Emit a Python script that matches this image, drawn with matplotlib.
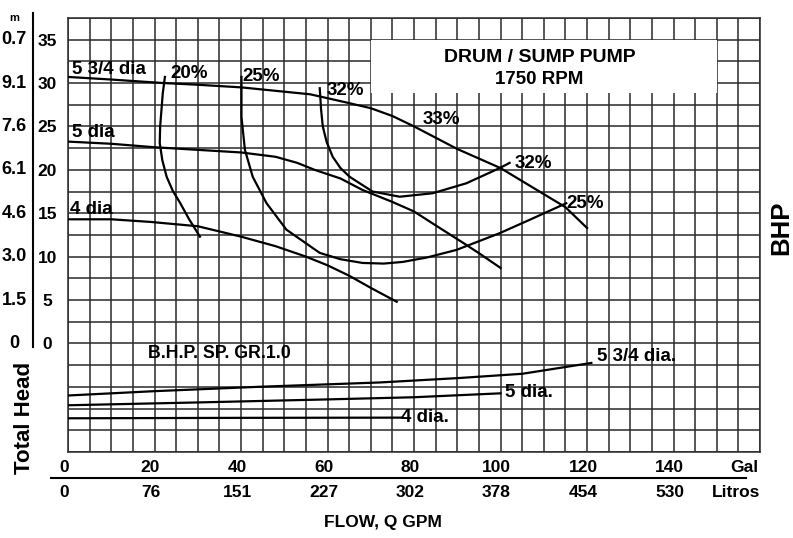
import matplotlib
matplotlib.use("Agg")
import matplotlib.pyplot as plt
import matplotlib.transforms as mtransforms
from matplotlib.patches import Rectangle
import numpy as np

plt.rcParams['font.family'] = ['Liberation Sans Narrow', 'Liberation Sans', 'DejaVu Sans']
WIDE = ["Liberation Sans", "DejaVu Sans"]

# head-capacity curves (gpm, ft)
q_575 = [0, 10, 22, 30, 40, 50, 56, 64, 70, 75, 80, 90, 100, 110, 115, 120]
h_575 = [30.7, 30.4, 30.0, 29.8, 29.5, 29.0, 28.7, 27.8, 27.1, 26.2, 25.0, 22.4, 20.2, 17.2, 15.7, 13.3]
q_5 = [0, 10, 20, 30, 40, 48, 53, 57, 63, 68, 75, 80, 85, 91, 95, 100]
h_5 = [23.25, 23.0, 22.6, 22.3, 22.0, 21.5, 20.8, 20.0, 19.0, 17.7, 16.3, 15.2, 13.6, 11.7, 10.4, 8.7]
q_4 = [0, 10, 19, 30, 40, 48, 55, 60, 65, 70, 76]
h_4 = [14.3, 14.3, 14.0, 13.5, 12.3, 11.2, 10.0, 9.0, 7.8, 6.4, 4.8]

# efficiency lines
q_e20 = [22.4, 21.9, 21.6, 21.3, 21.2, 21.8, 22.8, 24.2, 25.9, 28.0, 30.5]
h_e20 = [30.7, 28.8, 26.9, 25.0, 23.1, 21.1, 19.2, 17.6, 16.2, 14.3, 12.3]
q_e25 = [40.1, 40.1, 40.1, 40.9, 42.7, 45.9, 50.5, 58.2, 63, 68.1, 73, 77.4, 83, 89.8, 99.8, 107, 115.2]
h_e25 = [30.7, 28.5, 26.1, 22.3, 19.2, 16.15, 13.1, 10.43, 9.7, 9.27, 9.2, 9.39, 9.9, 10.77, 12.7, 14.3, 16.15]
q_e32 = [58.2, 58.5, 58.9, 59.8, 61.2, 63, 65.1, 70.4, 76.7, 84.3, 92.1, 99.8, 102.1]
h_e32 = [29.4, 27.0, 25.0, 23.2, 21.5, 20.2, 19.2, 17.5, 16.9, 17.3, 18.45, 20.2, 20.8]

# brake horsepower (gpm, hp)
q_b575 = [0, 20, 44, 72, 90, 105, 121]
b_575 = [0.26, 0.28, 0.30, 0.32, 0.34, 0.36, 0.41]
q_b5 = [0, 30, 60, 80, 100]
b_5 = [0.215, 0.228, 0.242, 0.252, 0.27]
q_b4 = [0, 40, 77]
b_4 = [0.155, 0.157, 0.158]

gal_ticks = [0, 20, 40, 60, 80, 100, 120, 140]
litros = ["0", "76", "151", "227", "302", "378", "454", "530"]
head_ticks = [0, 5, 10, 15, 20, 25, 30, 35]
metros = ["0", "1.5", "3.0", "4.6", "6.1", "7.6", "9.1", "0.7"]

grid_c = "#2a2a2a"
fig = plt.figure(figsize=(7.93, 5.38), dpi=100)
ax = fig.add_axes([0.0858, 0.160, 0.8726, 0.8067])
ax.set_xlim(0, 160)
ax.set_ylim(-12.5, 37.5)
ax.set_xticks(np.arange(0, 161, 5), minor=True)
ax.set_yticks(np.arange(-12.5, 37.6, 2.5), minor=True)
ax.set_xticks(gal_ticks)
ax.set_xticklabels([str(v) for v in gal_ticks])
ax.set_yticks(head_ticks)
ax.set_yticklabels([str(v) for v in head_ticks], ha="center")
ax.grid(which="both", color=grid_c, lw=1.1)
ax.set_axisbelow(True)
ax.tick_params(which="both", length=0)
ax.tick_params(axis="x", pad=6, labelsize=12.5)
ax.tick_params(axis="y", pad=15, labelsize=12.5)
for lab in ax.get_xticklabels() + ax.get_yticklabels():
    lab.set_fontweight("bold")
off = mtransforms.ScaledTranslation(-4 / 100, 0, fig.dpi_scale_trans)
for lab in ax.get_xticklabels():
    lab.set_transform(lab.get_transform() + off)
for s in ax.spines.values():
    s.set_color(grid_c)
    s.set_linewidth(1.1)

ax.add_patch(Rectangle((70, 28.9), 80, 6.1, facecolor="white", edgecolor="none", zorder=1))

lw = 1.6
for q, h in [(q_575, h_575), (q_5, h_5), (q_4, h_4), (q_e20, h_e20), (q_e25, h_e25), (q_e32, h_e32)]:
    ax.plot(q, h, color="black", lw=lw, zorder=3)

bold = dict(fontweight="bold", color="black", zorder=4, family=WIDE)
ax.text(1, 31.6, "5 3/4 dia", fontsize=13.5, va="center", **bold)
ax.text(1, 24.3, "5 dia", fontsize=13.5, va="center", **bold)
ax.text(0.5, 15.4, "4 dia", fontsize=13.5, va="center", **bold)
for x, y, t in [(23.6, 31.1, "20%"), (40.4, 30.8, "25%"), (59.8, 29.1, "32%"),
                (82, 25.8, "33%"), (103.2, 20.7, "32%"), (115.2, 16.1, "25%")]:
    ax.text(x, y, t, fontsize=13.5, va="center", **bold)
ax.text(109, 32.9, "DRUM / SUMP PUMP", fontsize=14, ha="center", va="center", **bold)
ax.text(109, 30.4, "1750 RPM", fontsize=13.5, ha="center", va="center", **bold)
ax.text(18.5, -1.2, "B.H.P. SP. GR.1.0", fontsize=12.8, va="center", **bold)

# BHP on its own scale
ax2 = ax.twinx()
ax2.set_ylim(0, 2.0)
ax2.set_yticks([])
for s in ax2.spines.values():
    s.set_visible(False)
for q, b in [(q_b575, b_575), (q_b5, b_5), (q_b4, b_4)]:
    ax2.plot(q, b, color="black", lw=lw)
ax2.text(122.4, 0.44, "5 3/4 dia.", fontsize=13.5, va="center", **bold)
ax2.text(101, 0.276, "5 dia.", fontsize=13.5, va="center", **bold)
ax2.text(77.1, 0.157, "4 dia.", fontsize=13.5, va="center", **bold)
fig.text(781 / 793, 1 - 228 / 538, "BHP", rotation=90, ha="center", va="center",
         fontsize=18.5, fontweight="bold", family=WIDE)

# metric head scale and litres scale
yb = mtransforms.blended_transform_factory(ax.transAxes, ax.transData)
for h, m in zip(head_ticks, metros):
    ax.text(-0.078, h, m, transform=yb, ha="center", va="center", fontsize=13, fontweight="bold")
ax.text(-0.078, 37.5, "m", transform=yb, ha="center", va="center", fontsize=8, fontweight="bold")
ax.plot([-0.0506, -0.0506], [0.242, 1.0115], transform=ax.transAxes, color="black", lw=1.5, clip_on=False)
ax.plot([-0.0246, 0.98], [-0.06, -0.06], transform=ax.transAxes, color="black", lw=1.5, clip_on=False)

xb = mtransforms.blended_transform_factory(ax.transData, ax.transAxes)
for q, l in zip(gal_ticks, litros):
    ax.text(q, -0.094, l, transform=xb + off, ha="center", va="center", fontsize=12.5, fontweight="bold")
ax.text(156.3, -0.035, "Gal", transform=xb, ha="center", va="center", fontsize=12.5, fontweight="bold")
ax.text(154.5, -0.094, "Litros", transform=xb, ha="center", va="center", fontsize=12.5, fontweight="bold")

fig.text(383 / 793, 1 - 523 / 538, "FLOW, Q GPM", ha="center", va="center", fontsize=12.5, fontweight="bold")
fig.text(25 / 793, 1 - 418 / 538, "Total Head", rotation=90, ha="center", va="center",
         fontsize=16, fontweight="bold", family=WIDE)

fig.savefig("out.png", dpi=100)
